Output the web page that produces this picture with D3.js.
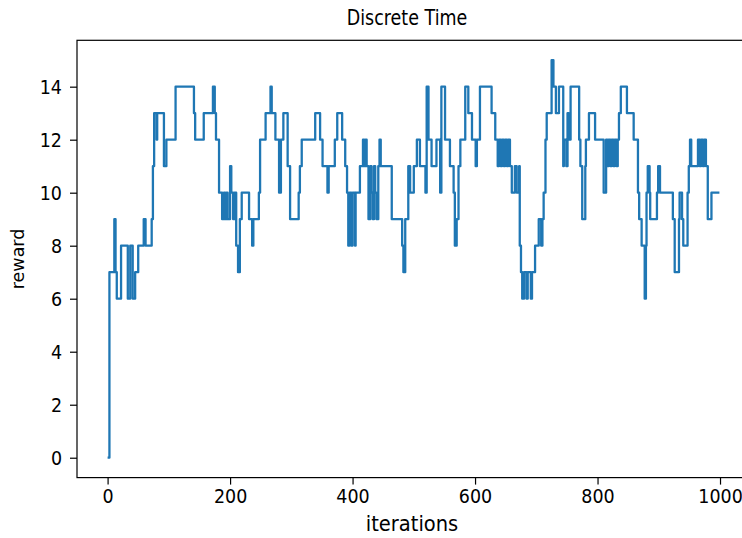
<!DOCTYPE html>
<html>
<head>
<meta charset="utf-8">
<script src="https://cdn.jsdelivr.net/npm/d3@7"></script>
<style>
  html, body { margin: 0; padding: 0; background: #fff; overflow: hidden; }
  svg { display: block; }
  text { font-family: "DejaVu Sans", sans-serif; fill: #000; }
  .stretch { transform-box: fill-box; transform-origin: center; transform: scale(1, 1.12); }
  .stretch-title { transform-box: fill-box; transform-origin: center; transform: scale(1, 1.2); }
</style>
</head>
<body>
<svg id="chart" width="742" height="538"></svg>
<script>
// Change points of the step-like reward series (iteration where the value changes, new value)
const changeIter = [
  0, 3, 11, 13, 15, 22, 33, 37, 41, 45, 50, 59, 62, 72, 74, 76, 80, 81, 92, 96, 111, 141, 143, 152, 157,
  172, 175, 177, 182, 187, 190, 192, 194, 196, 200, 202, 205, 207, 210, 213, 216, 219, 231, 236, 238, 247, 249,
  258, 266, 268, 274, 280, 283, 287, 294, 298, 312, 314, 317,
  339, 347, 351, 359, 361, 371, 375, 383, 388, 391, 393, 395, 398, 400, 404, 405, 412, 417, 419, 421, 423, 426,
  429, 431, 433, 435, 437, 439, 442, 444, 446, 464, 481, 483, 486, 491, 494, 497, 500, 505, 510, 519, 521, 524,
  529, 537, 543, 545, 551, 559, 565, 567, 570, 573, 576, 584, 589, 595, 601, 603, 608, 627, 633, 637, 639, 642,
  644, 647, 649, 652, 654, 657, 660, 665, 668,
  672, 673, 675, 677, 680, 684, 686, 691, 693, 698, 704, 708, 710, 712, 715, 717, 725, 728, 732, 737, 744, 745,
  749, 751, 753, 756, 770, 772, 775, 780, 781, 786, 796, 810, 814, 816, 818, 821, 823, 826, 828, 831, 833, 835,
  838, 848, 859, 866, 868, 872, 877, 879, 880, 882, 885, 886, 897, 899, 902, 923, 926, 933, 934, 938, 940, 947,
  949, 951, 953, 964, 967, 969, 972, 974, 977, 980, 986, 995, 999
];
const changeReward = [
  0, 7, 9, 7, 6, 8, 6, 8, 6, 7, 8, 9, 8, 9, 11, 13, 12, 13, 11, 12, 14, 13, 12, 12, 13,
  14, 13, 12, 10, 9, 10, 9, 10, 9, 11, 10, 9, 10, 8, 7, 9, 10, 9, 8, 9, 10, 12,
  13, 14, 13, 12, 10, 12, 13, 11, 9, 10, 11, 12,
  13, 12, 11, 10, 11, 12, 13, 12, 11, 10, 8, 10, 8, 10, 8, 10, 11, 12, 11, 12, 11, 9, 11,
  10, 9, 11, 10, 9, 11, 12, 11, 9, 8, 7, 9, 11, 10, 10, 11, 12, 11, 10, 14, 12, 11,
  12, 10, 14, 12, 11, 10, 8, 9, 11, 12, 14, 13, 12, 11, 12, 14, 13, 12, 11, 12,
  11, 12, 11, 12, 11, 12, 11, 10, 11,
  10, 11, 8, 7, 6, 7, 6, 7, 6, 7, 8, 9, 8, 9, 10, 12, 13, 15, 14, 13, 14, 11,
  12, 11, 13, 12, 14, 12, 11, 9, 11, 12, 13, 12, 10, 12, 11, 12, 11, 12, 11, 12, 11, 12,
  13, 14, 13, 12, 10, 9, 8, 6, 8, 10, 11, 10, 9, 10, 11, 10, 9, 7, 9, 10, 9,
  8, 10, 11, 12, 11, 12, 11, 12, 11, 12, 11, 9, 10, 10
];
const xTicks = [0, 200, 400, 600, 800, 1000];
const yTicks = [0, 2, 4, 6, 8, 10, 12, 14];
const titleText = "Discrete Time";
const xLabel = "iterations";
const yLabel = "reward";

const svg = d3.select("#chart");
const L = 77, R = 750, T = 40.3, B = 477.6;

const x = d3.scaleLinear().domain([-49.95, 1048.95]).range([L, R]);
const y = d3.scaleLinear().domain([-0.75, 15.75]).range([B, T]);

const pts = changeIter.map((it, i) => [it, changeReward[i]]);

svg.append("clipPath").attr("id", "plotclip")
  .append("rect").attr("x", L).attr("y", T).attr("width", R - L).attr("height", B - T);

const line = d3.line()
  .x(d => x(d[0]))
  .y(d => y(d[1]))
  .curve(d3.curveStepAfter);

svg.append("path")
  .datum(pts)
  .attr("clip-path", "url(#plotclip)")
  .attr("d", line)
  .attr("fill", "none")
  .attr("stroke", "#1f77b4")
  .attr("stroke-width", 2.3)
  .attr("stroke-linejoin", "round");

// axes
const xAxis = d3.axisBottom(x).tickValues(xTicks).tickSize(7).tickPadding(5).tickFormat(d3.format("d"));
const yAxis = d3.axisLeft(y).tickValues(yTicks).tickSize(7).tickPadding(8).tickFormat(d3.format("d"));

const gx = svg.append("g").attr("transform", `translate(0,${B})`).call(xAxis);
const gy = svg.append("g").attr("transform", `translate(${L},0)`).call(yAxis);
[gx, gy].forEach(g => {
  g.select(".domain").remove();
  g.attr("font-size", null).attr("font-family", null);
  g.selectAll(".tick line").attr("stroke", "#000").attr("stroke-width", 1.2);
  g.selectAll(".tick text").attr("fill", "#000").attr("class", "stretch")
    .style("font-family", "'DejaVu Sans', sans-serif").style("font-size", "17.5px");
});

// frame
svg.append("rect")
  .attr("x", L).attr("y", T).attr("width", R - L).attr("height", B - T)
  .attr("fill", "none").attr("stroke", "#000").attr("stroke-width", 1.2);

// title & labels
svg.append("text").attr("class", "stretch-title").attr("x", 407).attr("y", 24)
  .attr("text-anchor", "middle").style("font-size", "17.5px").text(titleText);
svg.append("text").attr("class", "stretch").attr("x", 412).attr("y", 530)
  .attr("text-anchor", "middle").style("font-size", "19.5px").text(xLabel);
svg.append("text").attr("transform", `translate(24,${(T + B) / 2}) rotate(-90)`)
  .attr("text-anchor", "middle").style("font-size", "17.5px").text(yLabel);
</script>
</body>
</html>
